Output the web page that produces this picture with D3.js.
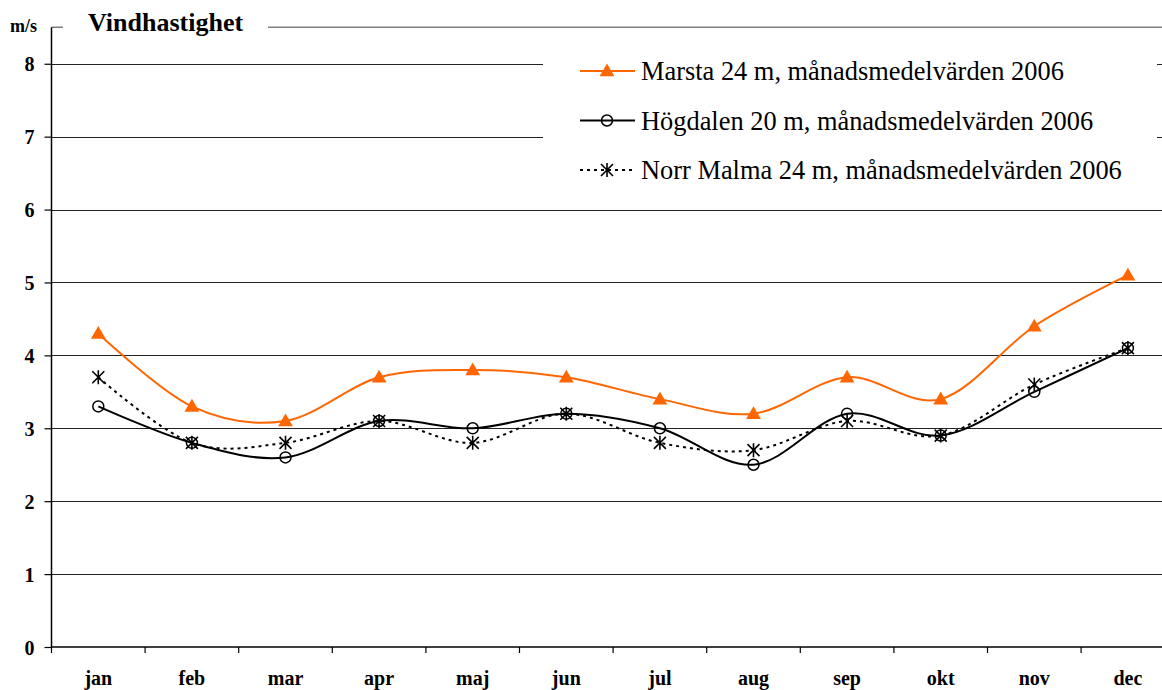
<!DOCTYPE html>
<html>
<head>
<meta charset="utf-8">
<script src="https://cdn.jsdelivr.net/npm/d3@7"></script>
<style>
  html, body { margin: 0; padding: 0; background: #fff; }
  svg { display: block; }
</style>
</head>
<body>
<svg id="chart" width="1162" height="690"></svg>
<script>
// Monthly mean wind speeds, 2006 (m/s)
const months = ["jan","feb","mar","apr","maj","jun","jul","aug","sep","okt","nov","dec"];
const marsta    = [4.3, 3.3, 3.1, 3.7, 3.8, 3.7, 3.4, 3.2, 3.7, 3.4, 4.4, 5.1];
const hogdalen  = [3.3, 2.8, 2.6, 3.1, 3.0, 3.2, 3.0, 2.5, 3.2, 2.9, 3.5, 4.1];
const norrMalma = [3.7, 2.8, 2.8, 3.1, 2.8, 3.2, 2.8, 2.7, 3.1, 2.9, 3.6, 4.1];
const yTicks = [0, 1, 2, 3, 4, 5, 6, 7, 8];
const seriesNames = [
  "Marsta 24 m, månadsmedelvärden 2006",
  "Högdalen 20 m, månadsmedelvärden 2006",
  "Norr Malma 24 m, månadsmedelvärden 2006"
];

const svg = d3.select("#chart");
const serif = "'Liberation Serif', 'Times New Roman', 'DejaVu Serif', serif";

const left = 51.5, bandW = 93.6;
const x = d3.scaleBand().domain(months).range([left, left + bandW * months.length]).padding(0);
const y = d3.scaleLinear().domain([0, 8.5]).range([647, 27.3]);
const cx = m => x(m) + x.bandwidth() / 2;

// Horizontal gridlines
svg.append("g").selectAll("line").data(yTicks.filter(d => d > 0)).join("line")
  .attr("x1", left).attr("x2", 1162)
  .attr("y1", d => Math.round(y(d)) + 0.5).attr("y2", d => Math.round(y(d)) + 0.5)
  .attr("stroke", "#222").attr("stroke-width", 1.2);

// Top border of plot area
svg.append("line").attr("x1", left).attr("x2", 1162)
  .attr("y1", y(8.5)).attr("y2", y(8.5))
  .attr("stroke", "#808080").attr("stroke-width", 1.6);

// Y axis
const yAxis = d3.axisLeft(y).tickValues(yTicks).tickSize(7).tickPadding(10).tickFormat(d3.format("d"));
const gy = svg.append("g").attr("transform", `translate(${left},0)`).call(yAxis);
gy.select(".domain").attr("stroke", "#000").attr("stroke-width", 1.5).attr("d", `M0,${y(8.5)}V${y(0)}`);
gy.selectAll(".tick line").attr("stroke", "#000").attr("stroke-width", 1.2);
gy.selectAll(".tick text").attr("font-family", serif).attr("font-weight", "bold")
  .attr("font-size", 20).attr("fill", "#000").attr("dy", "0.35em");

// X axis
const xAxis = d3.axisBottom(x).tickSize(0).tickPadding(24);
const gx = svg.append("g").attr("transform", `translate(0,${y(0)})`).call(xAxis);
gx.select(".domain").attr("stroke", "#000").attr("stroke-width", 1.5).attr("d", `M${left},0H1162`);
gx.selectAll(".tick text").attr("font-family", serif).attr("font-weight", "bold")
  .attr("font-size", 20).attr("fill", "#000");
// boundary tick marks between categories
gx.append("g").selectAll("line").data(months).join("line")
  .attr("x1", d => x(d)).attr("x2", d => x(d))
  .attr("y1", 0).attr("y2", 6).attr("stroke", "#000").attr("stroke-width", 1.2);

// Title and unit
svg.append("rect").attr("x", 63).attr("y", 15).attr("width", 205).attr("height", 20).attr("fill", "#fff");
svg.append("text").attr("x", 88).attr("y", 31).attr("font-family", serif).attr("font-weight", "bold")
  .attr("font-size", 26).text("Vindhastighet");
svg.append("text").attr("x", 10).attr("y", 31.5).attr("font-family", serif).attr("font-weight", "bold")
  .attr("font-size", 18).text("m/s");

// Marker shapes
const triPath = d3.symbol().type(d3.symbolTriangle).size(95)();
function drawMarker(g, kind, px, py) {
  if (kind === "tri") {
    g.append("path").attr("d", triPath).attr("transform", `translate(${px},${py + 1})`)
      .attr("fill", "#FF6600");
  } else if (kind === "circle") {
    g.append("circle").attr("cx", px).attr("cy", py).attr("r", 5.5)
      .attr("fill", "none").attr("stroke", "#000").attr("stroke-width", 1.5);
  } else {
    const s = 6;
    const p = `M${px - s},${py - s}L${px + s},${py + s}M${px + s},${py - s}L${px - s},${py + s}M${px},${py - s - 1}L${px},${py + s + 1}`;
    g.append("path").attr("d", p).attr("stroke", "#000").attr("stroke-width", 1.6).attr("fill", "none");
  }
}

const series = [
  { values: marsta,    color: "#FF6600", width: 2,   dash: null,  marker: "tri" },
  { values: hogdalen,  color: "#000",    width: 2,   dash: null,  marker: "circle" },
  { values: norrMalma, color: "#000",    width: 2,   dash: "3,4", marker: "star" }
];

const line = d3.line().x((d, i) => cx(months[i])).y(d => y(d)).curve(d3.curveCardinal.tension(0));

// Draw lines back to front, then markers
const order = [2, 1, 0];
order.forEach(k => {
  const s = series[k];
  svg.append("path").datum(s.values).attr("d", line)
    .attr("fill", "none").attr("stroke", s.color).attr("stroke-width", s.width)
    .attr("stroke-dasharray", s.dash);
});
order.forEach(k => {
  const s = series[k];
  const g = svg.append("g");
  s.values.forEach((v, i) => drawMarker(g, s.marker, cx(months[i]), y(v)));
});

// Legend
const lg = svg.append("g");
lg.append("rect").attr("x", 543).attr("y", 40).attr("width", 614).attr("height", 155).attr("fill", "#fff");
const rowY = [71, 120.5, 170];
series.forEach((s, i) => {
  const ly = rowY[i];
  lg.append("line").attr("x1", 580).attr("x2", 635).attr("y1", ly).attr("y2", ly)
    .attr("stroke", s.color).attr("stroke-width", s.width).attr("stroke-dasharray", s.dash);
  drawMarker(lg, s.marker, 607, ly);
  lg.append("text").attr("x", 641).attr("y", ly + 9).attr("font-family", serif)
    .attr("font-size", 26.4).attr("fill", "#000").text(seriesNames[i]);
});
</script>
</body>
</html>
